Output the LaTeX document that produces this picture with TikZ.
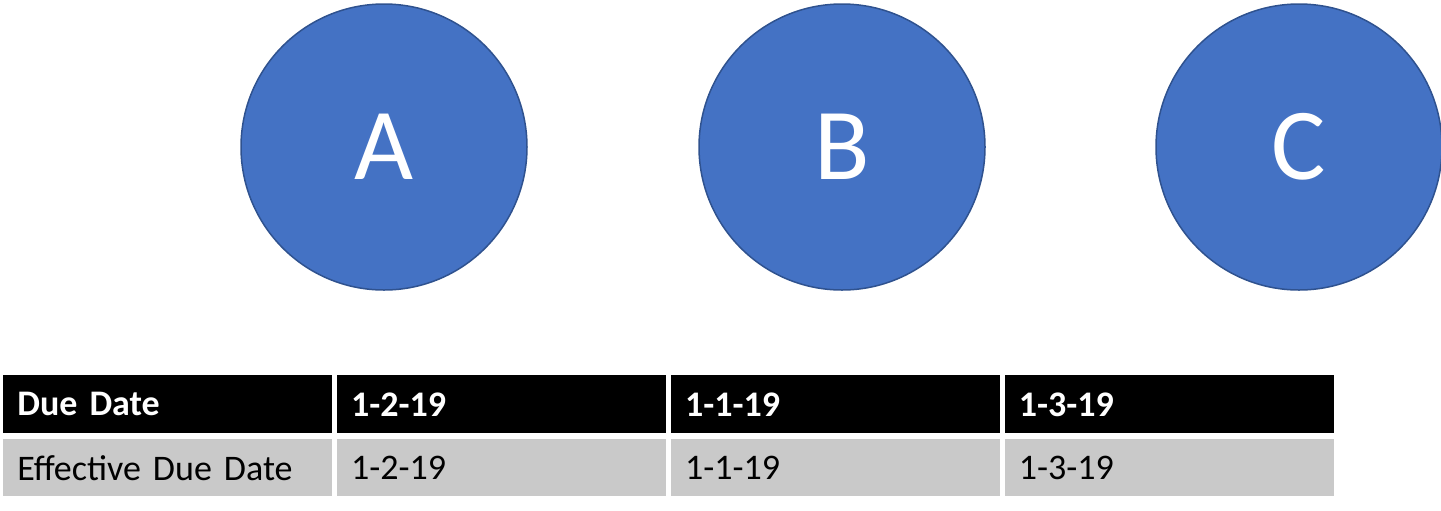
\documentclass[tikz,border=0pt]{standalone}
\usepackage{fontspec}
\setmainfont{Carlito}
\usepackage{xcolor}
\usetikzlibrary{positioning}
\definecolor{blueFill}{HTML}{4472C4}
\definecolor{blueEdge}{HTML}{2F528F}
\definecolor{rowgray}{HTML}{C9C9C9}

\begin{document}
\begin{tikzpicture}[x=0.5pt,y=-0.5pt,
  letter/.style={circle,fill=blueFill,draw=blueEdge,line width=0.75pt,
    minimum size=143pt,inner sep=0pt,text=white,
    font=\fontsize{51}{60}\selectfont},
  cell/.style={rectangle,inner xsep=7pt,inner ysep=0pt,text width=150.5pt,
    align=left,minimum height=29pt,font=\fontsize{18}{22}\selectfont},
  head/.style={cell,fill=black,text=white,font=\fontsize{18}{22}\selectfont\bfseries},
  body/.style={cell,fill=rowgray,text=black,minimum height=28.5pt},
  node distance=2.5pt and 2pt]
 \useasboundingbox (0,0) rectangle (1441,510);
 \node[letter] (a) at (384,147) {A};
 \node[letter] (b) at (842,147) {B};
 \node[letter] (c) at (1299,147) {C};
 \node[head,anchor=north west] (h1) at (3,375) {Due Date};
 \node[head,right=of h1] (h2) {1-2-19};
 \node[head,right=of h2] (h3) {1-1-19};
 \node[head,right=of h3] (h4) {1-3-19};
 \node[body,below=of h1] (e1) {Effective Due Date};
 \node[body,below=of h2] (e2) {1-2-19};
 \node[body,below=of h3] (e3) {1-1-19};
 \node[body,below=of h4] (e4) {1-3-19};
\end{tikzpicture}
\end{document}
